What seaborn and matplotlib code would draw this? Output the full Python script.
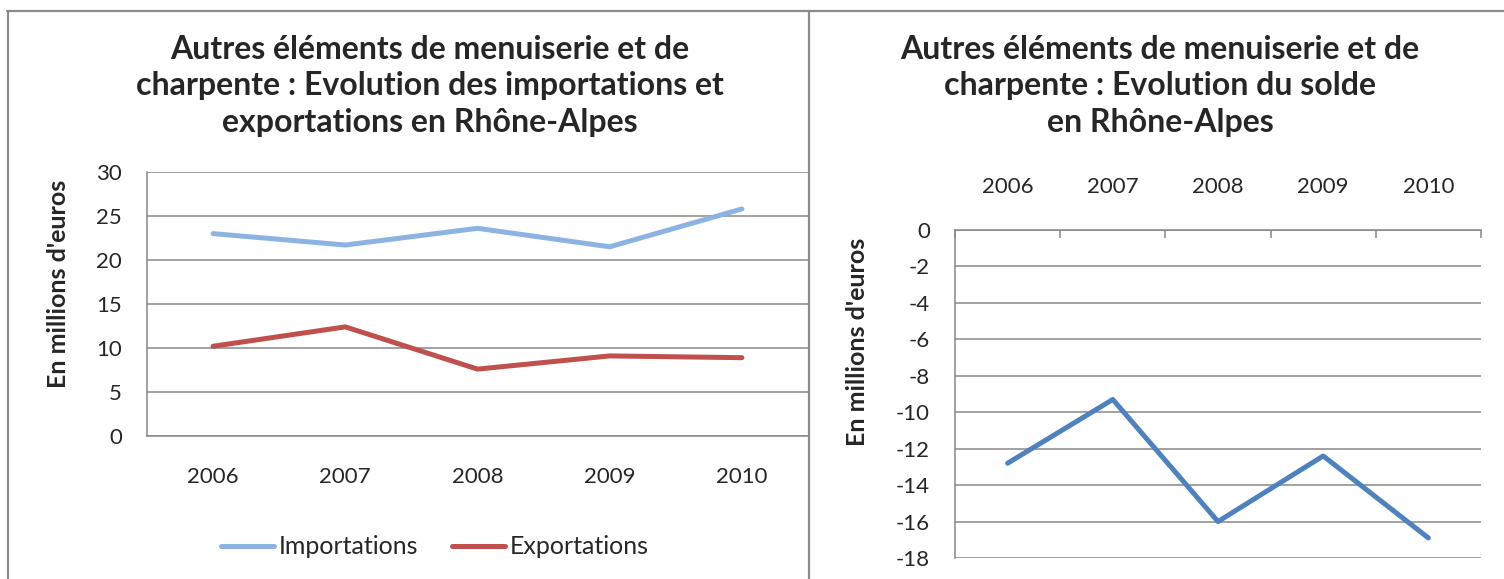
"""Autres éléments de menuiserie et de charpente : importations, exportations et solde en Rhône-Alpes."""
import matplotlib.pyplot as plt
import pandas as pd
import seaborn as sns
from matplotlib.lines import Line2D

YEARS = ["2006", "2007", "2008", "2009", "2010"]
IMPORTATIONS = [23.0, 21.7, 23.6, 21.5, 25.8]
EXPORTATIONS = [10.2, 12.4, 7.6, 9.1, 8.9]
SOLDE = [-12.8, -9.3, -16.0, -12.4, -16.9]

LEFT_YTICKS = [0, 5, 10, 15, 20, 25, 30]
RIGHT_YTICKS = [0, -2, -4, -6, -8, -10, -12, -14, -16, -18]

TITLE_LEFT = ("Autres éléments de menuiserie et de\n"
              "charpente : Evolution des importations et\n"
              "exportations en Rhône-Alpes")
TITLE_RIGHT = ("Autres éléments de menuiserie et de\n"
               "charpente : Evolution du solde\n"
               "en Rhône-Alpes")
YLABEL = "En millions d'euros"

COLORS = {"Importations": "#8DB3E2", "Exportations": "#C0504D"}
SOLDE_COLOR = "#4F81BD"
GRID = "#878787"

W, H = 1504, 579
TICK_FS = 16


def box(x0, y0, x1, y1):
    # pixel box (top-left origin) -> figure fraction rect
    return [x0 / W, 1 - y1 / H, (x1 - x0) / W, (y1 - y0) / H]


def show_spine(ax, side):
    ax.spines[side].set_visible(True)
    ax.spines[side].set_color(GRID)
    ax.spines[side].set_linewidth(1.1)


def style_axis(ax):
    ax.set_facecolor("white")
    ax.grid(axis="y", color=GRID, linewidth=1.1)
    ax.grid(axis="x", visible=False)
    for s in ax.spines.values():
        s.set_visible(False)
    ax.tick_params(axis="y", which="major", direction="out", length=5,
                   width=1.1, color=GRID, pad=13, labelsize=TICK_FS)
    ax.set_xlabel("")
    ax.set_ylabel(YLABEL, fontsize=18, fontweight="bold")


def main() -> None:
    sns.set_theme(style="white")
    plt.rcParams["font.family"] = ["Lato", "DejaVu Sans"]
    plt.rcParams["axes.unicode_minus"] = False

    fig = plt.figure(figsize=(W / 100, H / 100), dpi=100)

    # ---- left chart: importations / exportations
    df = pd.DataFrame({
        "pos": list(range(len(YEARS))) * 2,
        "valeur": IMPORTATIONS + EXPORTATIONS,
        "serie": ["Importations"] * len(YEARS) + ["Exportations"] * len(YEARS),
    })
    ax1 = fig.add_axes(box(147, 172, 808, 436))
    sns.lineplot(data=df, x="pos", y="valeur", hue="serie", palette=COLORS,
                 linewidth=3.6, solid_capstyle="round", ax=ax1)
    style_axis(ax1)
    ax1.set_ylim(0, 30)
    ax1.set_yticks(LEFT_YTICKS)
    ax1.set_xlim(-0.5, -0.5 + (808 - 147) / 136)
    ax1.set_xticks([i - 0.5 for i in range(len(YEARS) + 1)])
    ax1.set_xticklabels([])
    ax1.set_xticks(range(len(YEARS)), minor=True)
    ax1.set_xticklabels(YEARS, minor=True)
    ax1.tick_params(axis="x", which="major", direction="out", length=6,
                    width=1.1, color=GRID)
    ax1.tick_params(axis="x", which="minor", length=0, pad=22, labelsize=TICK_FS)
    show_spine(ax1, "left")
    show_spine(ax1, "bottom")
    ax1.yaxis.set_label_coords((70 - 147) / 661, 0.576)
    sns.move_legend(ax1, "center", bbox_to_anchor=((435 - 147) / 661, (436 - 547) / 264),
                    ncol=2, frameon=False, title=None, fontsize=18,
                    handlelength=2.1, handletextpad=0.2, columnspacing=1.35)
    for h in ax1.get_legend().legend_handles:
        h.set_linewidth(3.6)
        h.set_solid_capstyle("round")

    # ---- right chart: solde
    ax2 = fig.add_axes(box(955, 230, 1481, 558))
    sns.lineplot(x=list(range(len(YEARS))), y=SOLDE, color=SOLDE_COLOR,
                 linewidth=3.6, ax=ax2)
    style_axis(ax2)
    ax2.set_ylim(-18, 0)
    ax2.set_yticks(RIGHT_YTICKS)
    ax2.set_xlim(-0.5, len(YEARS) - 0.5)
    ax2.xaxis.tick_top()
    ax2.set_xticks([i - 0.5 for i in range(len(YEARS) + 1)])
    ax2.set_xticklabels([])
    ax2.set_xticks(range(len(YEARS)), minor=True)
    ax2.set_xticklabels(YEARS, minor=True)
    ax2.tick_params(axis="x", which="major", direction="in", length=6,
                    width=1.1, color=GRID, top=True, bottom=False)
    ax2.tick_params(axis="x", which="minor", length=0, pad=24, labelsize=TICK_FS,
                    top=True, bottom=False, labeltop=True, labelbottom=False)
    show_spine(ax2, "left")
    show_spine(ax2, "top")
    ax2.yaxis.set_label_coords((869 - 955) / 526, 0.66)

    # ---- titles
    fig.text(430 / W, 1 - 86 / H, TITLE_LEFT, ha="center", va="center",
             fontsize=23, fontweight="bold", linespacing=1.3)
    fig.text(1160 / W, 1 - 86 / H, TITLE_RIGHT, ha="center", va="center",
             fontsize=23, fontweight="bold", linespacing=1.3)

    # ---- panel borders
    border = dict(color="#8C8C8C", linewidth=1.6, transform=fig.transFigure)
    fig.add_artist(Line2D([7 / W, 1], [1 - 11 / H] * 2, **border))
    fig.add_artist(Line2D([8 / W] * 2, [0, 1 - 11 / H], **border))
    fig.add_artist(Line2D([809 / W] * 2, [0, 1 - 11 / H], **border))

    fig.savefig("out.png", dpi=100, facecolor="white")
    plt.close(fig)


if __name__ == "__main__":
    main()
